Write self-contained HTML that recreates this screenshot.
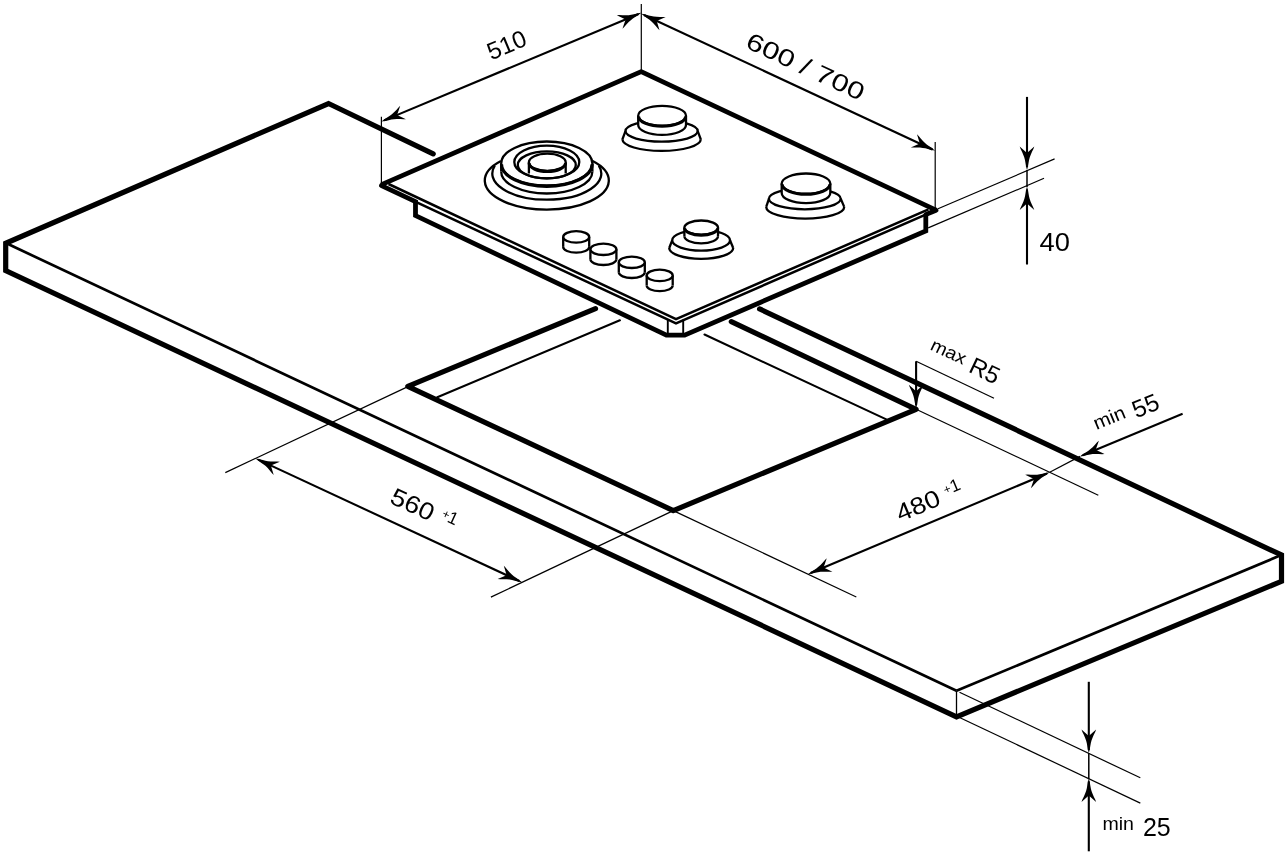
<!DOCTYPE html>
<html><head><meta charset="utf-8"><style>
html,body{margin:0;padding:0;background:#fff;}
svg{display:block;will-change:transform;}
text{font-family:"Liberation Sans",sans-serif;fill:#000;stroke:none;}
</style></head><body>
<svg width="1288" height="854" viewBox="0 0 1288 854" stroke="#000" fill="none">
<rect width="1288" height="854" fill="#fff" stroke="none"/>
<polyline points="433.2,153.9 328.5,103.5 5.7,243.3 5.7,270.6 956.5,716.8 1281.5,581.3 1281.5,555 759.6,308.9" stroke-width="5.2" stroke-linejoin="miter" stroke-linecap="round" fill="none"/>
<line x1="7.5" y1="243.8" x2="956.5" y2="690.8" stroke-width="2.7" stroke-linecap="butt"/>
<line x1="956.5" y1="690.8" x2="1280" y2="555.6" stroke-width="2.7" stroke-linecap="butt"/>
<line x1="956.5" y1="690.8" x2="956.5" y2="716.8" stroke-width="1.3" stroke-linecap="butt"/>
<polyline points="595.5,308.6 407.8,386.3 673.3,510.6 916.1,409.3 731.3,321.6" stroke-width="5.2" stroke-linejoin="round" stroke-linecap="round" fill="none"/>
<line x1="437.3" y1="397.2" x2="619.9" y2="320.3" stroke-width="2.1" stroke-linecap="round"/>
<line x1="704.5" y1="334.5" x2="886.3" y2="419.4" stroke-width="2.1" stroke-linecap="round"/>
<polyline points="381.5,184.6 641.2,71.6 936,210.2" stroke-width="4.8" stroke-linejoin="round" stroke-linecap="butt" fill="none"/>
<polyline points="388.5,184 676,319.1 928.5,209.4" stroke-width="2.5" stroke-linejoin="miter" stroke-linecap="butt" fill="none"/>
<polyline points="381.5,185.8 676,323.4 926.2,214.4" stroke-width="2.5" stroke-linejoin="miter" stroke-linecap="butt" fill="none"/>
<line x1="381.5" y1="185.6" x2="415.5" y2="201.6" stroke-width="4.8" stroke-linecap="round"/>
<line x1="936" y1="210.2" x2="926.2" y2="214.4" stroke-width="4.8" stroke-linecap="round"/>
<polyline points="415.5,200 415.5,215.6 666.4,335.1 684.6,335.1 925.8,231 925.8,213.8" stroke-width="4.8" stroke-linejoin="miter" stroke-linecap="butt" fill="none"/>
<line x1="667.8" y1="319.5" x2="667.8" y2="334" stroke-width="1.9" stroke-linecap="butt"/>
<line x1="683.2" y1="319.5" x2="683.2" y2="334" stroke-width="1.9" stroke-linecap="butt"/>
<path d="M622.4,139.3 A39.2,11.6 0 0 0 700.8,139.3" stroke-width="2.3" fill="none"/>
<line x1="622.4" y1="139.3" x2="625.5" y2="131.1" stroke-width="2.3" stroke-linecap="butt"/>
<line x1="700.8" y1="139.3" x2="697.7" y2="131.1" stroke-width="2.3" stroke-linecap="butt"/>
<ellipse cx="661.6" cy="131.1" rx="36.1" ry="10.5" stroke-width="2.3" fill="none"/>
<path d="M638.2,115.8 L638.2,125 A23.9,9.9 0 0 0 686,125 L686,115.8 Z" fill="#fff" stroke="none"/>
<path d="M638.2,125 A23.9,9.9 0 0 0 686,125" stroke-width="2.3" fill="none"/>
<line x1="638.2" y1="115.8" x2="638.2" y2="125" stroke-width="2.3" stroke-linecap="butt"/>
<line x1="686" y1="115.8" x2="686" y2="125" stroke-width="2.3" stroke-linecap="butt"/>
<ellipse cx="662.1" cy="115.8" rx="23.9" ry="9.9" stroke-width="2.3" fill="#fff"/>
<path d="M638.68,116.4 A23.42,9.9 0 0 0 685.52,116.4" stroke-width="3.0" fill="none"/>
<path d="M766.2,206.9 A39,11.7 0 0 0 844.2,206.9" stroke-width="2.3" fill="none"/>
<line x1="766.2" y1="206.9" x2="768.9" y2="198.8" stroke-width="2.3" stroke-linecap="butt"/>
<line x1="844.2" y1="206.9" x2="840.7" y2="198.8" stroke-width="2.3" stroke-linecap="butt"/>
<ellipse cx="804.8" cy="198.8" rx="35.9" ry="10.5" stroke-width="2.3" fill="none"/>
<path d="M781.7,183.6 L781.7,193 A24.3,10.1 0 0 0 830.3,193 L830.3,183.6 Z" fill="#fff" stroke="none"/>
<path d="M781.7,193 A24.3,10.1 0 0 0 830.3,193" stroke-width="2.3" fill="none"/>
<line x1="781.7" y1="183.6" x2="781.7" y2="193" stroke-width="2.3" stroke-linecap="butt"/>
<line x1="830.3" y1="183.6" x2="830.3" y2="193" stroke-width="2.3" stroke-linecap="butt"/>
<ellipse cx="806" cy="183.6" rx="24.3" ry="10.1" stroke-width="2.3" fill="#fff"/>
<path d="M782.19,184.2 A23.81,10.1 0 0 0 829.81,184.2" stroke-width="3.0" fill="none"/>
<path d="M669.2,248 A32,10.8 0 0 0 733.2,248" stroke-width="2.3" fill="none"/>
<line x1="669.2" y1="248" x2="672.2" y2="240.3" stroke-width="2.3" stroke-linecap="butt"/>
<line x1="733.2" y1="248" x2="730" y2="240.3" stroke-width="2.3" stroke-linecap="butt"/>
<ellipse cx="701.1" cy="240.3" rx="28.9" ry="10.3" stroke-width="2.3" fill="none"/>
<path d="M684.4,227.6 L684.4,236.2 A16.8,7.1 0 0 0 718,236.2 L718,227.6 Z" fill="#fff" stroke="none"/>
<path d="M684.4,236.2 A16.8,7.1 0 0 0 718,236.2" stroke-width="2.3" fill="none"/>
<line x1="684.4" y1="227.6" x2="684.4" y2="236.2" stroke-width="2.3" stroke-linecap="butt"/>
<line x1="718" y1="227.6" x2="718" y2="236.2" stroke-width="2.3" stroke-linecap="butt"/>
<ellipse cx="701.2" cy="227.6" rx="16.8" ry="7.1" stroke-width="2.3" fill="#fff"/>
<path d="M684.74,228.2 A16.46,7.1 0 0 0 717.66,228.2" stroke-width="3.0" fill="none"/>
<path d="M501,161 A62,29 0 1 0 592.6,161" stroke-width="2.3" fill="none"/>
<path d="M494.8,165.65 A54.5,26.2 0 1 0 598.8,165.65" stroke-width="2.3" fill="none"/>
<path d="M501.2,163.5 L501.2,171.5 A45.6,22 0 0 0 592.4,171.5 L592.4,163.5 Z" fill="#fff" stroke="none"/>
<path d="M501.2,171.5 A45.6,22 0 0 0 592.4,171.5" stroke-width="2.3" fill="none"/>
<line x1="501.2" y1="163.5" x2="501.2" y2="171.5" stroke-width="2.3" stroke-linecap="butt"/>
<line x1="592.4" y1="163.5" x2="592.4" y2="171.5" stroke-width="2.3" stroke-linecap="butt"/>
<ellipse cx="546.8" cy="163.5" rx="45.6" ry="22" stroke-width="2.3" fill="#fff"/>
<path d="M501.5,164.3 A45.3,22 0 0 0 592.1,164.3" stroke-width="3.2" fill="none"/>
<ellipse cx="546.8" cy="162" rx="32.5" ry="16.4" stroke-width="2.3" fill="none"/>
<ellipse cx="546.8" cy="164.9" rx="29" ry="13.5" stroke-width="2.3" fill="none"/>
<path d="M528.9,162.3 L528.9,173 L565.7,173 L565.7,162.3 Z" fill="#fff" stroke="none"/>
<line x1="528.9" y1="162.3" x2="528.9" y2="173.5" stroke-width="2.3" stroke-linecap="butt"/>
<line x1="565.7" y1="162.3" x2="565.7" y2="173.5" stroke-width="2.3" stroke-linecap="butt"/>
<ellipse cx="547.3" cy="162.3" rx="18.4" ry="8.6" stroke-width="2.3" fill="#fff"/>
<path d="M529.1,163 A18.2,8.6 0 0 0 565.5,163" stroke-width="3.0" fill="none"/>
<path d="M563.2,236.9 L563.2,246.9 A13,5.7 0 0 0 589.2,246.9 L589.2,236.9 Z" fill="#fff" stroke="none"/>
<path d="M563.2,246.9 A13,5.7 0 0 0 589.2,246.9" stroke-width="2.3" fill="none"/>
<line x1="563.2" y1="236.9" x2="563.2" y2="246.9" stroke-width="2.3" stroke-linecap="butt"/>
<line x1="589.2" y1="236.9" x2="589.2" y2="246.9" stroke-width="2.3" stroke-linecap="butt"/>
<ellipse cx="576.2" cy="236.9" rx="13" ry="5.7" stroke-width="2.3" fill="#fff"/>
<path d="M590.4,249.3 L590.4,259.3 A13,5.7 0 0 0 616.4,259.3 L616.4,249.3 Z" fill="#fff" stroke="none"/>
<path d="M590.4,259.3 A13,5.7 0 0 0 616.4,259.3" stroke-width="2.3" fill="none"/>
<line x1="590.4" y1="249.3" x2="590.4" y2="259.3" stroke-width="2.3" stroke-linecap="butt"/>
<line x1="616.4" y1="249.3" x2="616.4" y2="259.3" stroke-width="2.3" stroke-linecap="butt"/>
<ellipse cx="603.4" cy="249.3" rx="13" ry="5.7" stroke-width="2.3" fill="#fff"/>
<path d="M618.8,262.3 L618.8,272.3 A13,5.7 0 0 0 644.8,272.3 L644.8,262.3 Z" fill="#fff" stroke="none"/>
<path d="M618.8,272.3 A13,5.7 0 0 0 644.8,272.3" stroke-width="2.3" fill="none"/>
<line x1="618.8" y1="262.3" x2="618.8" y2="272.3" stroke-width="2.3" stroke-linecap="butt"/>
<line x1="644.8" y1="262.3" x2="644.8" y2="272.3" stroke-width="2.3" stroke-linecap="butt"/>
<ellipse cx="631.8" cy="262.3" rx="13" ry="5.7" stroke-width="2.3" fill="#fff"/>
<path d="M646.7,275.4 L646.7,285.4 A13,5.7 0 0 0 672.7,285.4 L672.7,275.4 Z" fill="#fff" stroke="none"/>
<path d="M646.7,285.4 A13,5.7 0 0 0 672.7,285.4" stroke-width="2.3" fill="none"/>
<line x1="646.7" y1="275.4" x2="646.7" y2="285.4" stroke-width="2.3" stroke-linecap="butt"/>
<line x1="672.7" y1="275.4" x2="672.7" y2="285.4" stroke-width="2.3" stroke-linecap="butt"/>
<ellipse cx="659.7" cy="275.4" rx="13" ry="5.7" stroke-width="2.3" fill="#fff"/>
<line x1="381.4" y1="116.8" x2="381.4" y2="184" stroke-width="1.2" stroke-linecap="butt"/>
<line x1="641.3" y1="4.1" x2="641.3" y2="71" stroke-width="1.2" stroke-linecap="butt"/>
<line x1="935.2" y1="142" x2="935.2" y2="208.7" stroke-width="1.2" stroke-linecap="butt"/>
<line x1="938" y1="208.8" x2="1054.6" y2="158.9" stroke-width="1.2" stroke-linecap="butt"/>
<line x1="928.2" y1="227.9" x2="1044" y2="178.3" stroke-width="1.2" stroke-linecap="butt"/>
<line x1="407.4" y1="386.9" x2="225.3" y2="472.6" stroke-width="1.2" stroke-linecap="butt"/>
<line x1="673.3" y1="510.6" x2="490.9" y2="597.1" stroke-width="1.2" stroke-linecap="butt"/>
<line x1="673.3" y1="510.6" x2="856.3" y2="597" stroke-width="1.2" stroke-linecap="butt"/>
<line x1="916.1" y1="409.3" x2="1098.3" y2="495.2" stroke-width="1.2" stroke-linecap="butt"/>
<line x1="916.1" y1="361.3" x2="994" y2="398.2" stroke-width="1.2" stroke-linecap="butt"/>
<line x1="959.5" y1="692.2" x2="1140.3" y2="777.8" stroke-width="1.2" stroke-linecap="butt"/>
<line x1="959.5" y1="717.5" x2="1140.3" y2="803.1" stroke-width="1.2" stroke-linecap="butt"/>
<line x1="384.17" y1="120.4" x2="638.53" y2="13.99" stroke-width="2.1" stroke-linecap="butt"/>
<path d="M381.4,121.56 L383.03,120.28 L384.7,119.09 L387.54,117.31 L389.83,115.81 L391.89,114.24 L394.01,112.32 L396.35,109.88 L398.49,107.47 L400.26,105.75 L397.08,115 L405.9,119.22 L403.43,119.28 L400.21,119.11 L396.83,119.06 L393.97,119.22 L391.42,119.59 L388.73,120.17 L385.48,120.94 L383.46,121.29 Z" fill="#000" stroke="none"/>
<path d="M641.3,12.83 L639.67,14.11 L638,15.3 L635.16,17.08 L632.87,18.58 L630.81,20.15 L628.69,22.07 L626.35,24.51 L624.21,26.92 L622.44,28.64 L625.62,19.39 L616.8,15.17 L619.27,15.11 L622.49,15.28 L625.87,15.33 L628.73,15.17 L631.28,14.8 L633.97,14.22 L637.22,13.45 L639.24,13.1 Z" fill="#000" stroke="none"/>
<line x1="644.02" y1="15.01" x2="932.48" y2="149.45" stroke-width="2.1" stroke-linecap="butt"/>
<path d="M641.3,13.75 L643.35,14.09 L645.35,14.53 L648.57,15.43 L651.23,16.11 L653.77,16.58 L656.62,16.86 L660,16.95 L663.22,16.9 L665.68,17.06 L656.71,20.93 L659.52,30.29 L657.81,28.5 L655.77,26.01 L653.54,23.48 L651.49,21.47 L649.5,19.83 L647.26,18.24 L644.5,16.34 L642.88,15.09 Z" fill="#000" stroke="none"/>
<path d="M935.2,150.72 L933.15,150.37 L931.15,149.94 L927.93,149.04 L925.27,148.35 L922.73,147.89 L919.88,147.61 L916.5,147.52 L913.28,147.56 L910.82,147.41 L919.79,143.54 L916.98,134.18 L918.69,135.96 L920.73,138.46 L922.96,140.99 L925.01,142.99 L927,144.64 L929.24,146.23 L932,148.12 L933.62,149.38 Z" fill="#000" stroke="none"/>
<line x1="258.2" y1="459.66" x2="519.31" y2="581.07" stroke-width="2.1" stroke-linecap="butt"/>
<path d="M255.48,458.4 L257.52,458.74 L259.53,459.18 L262.75,460.07 L265.41,460.75 L267.95,461.22 L270.8,461.5 L274.18,461.58 L277.4,461.53 L279.87,461.69 L270.89,465.56 L273.71,474.92 L272,473.14 L269.96,470.65 L267.72,468.12 L265.68,466.12 L263.68,464.47 L261.44,462.88 L258.68,460.99 L257.06,459.74 Z" fill="#000" stroke="none"/>
<path d="M522.03,582.34 L519.98,581.99 L517.98,581.56 L514.75,580.67 L512.1,579.98 L509.55,579.52 L506.71,579.24 L503.33,579.16 L500.11,579.2 L497.64,579.05 L506.61,575.17 L503.8,565.81 L505.5,567.6 L507.54,570.09 L509.78,572.62 L511.83,574.62 L513.82,576.26 L516.06,577.85 L518.82,579.75 L520.45,581 Z" fill="#000" stroke="none"/>
<line x1="810.7" y1="573" x2="1046.94" y2="473.45" stroke-width="2.1" stroke-linecap="butt"/>
<path d="M807.93,574.17 L809.56,572.88 L811.23,571.69 L814.06,569.9 L816.35,568.39 L818.41,566.82 L820.52,564.9 L822.86,562.45 L824.99,560.04 L826.76,558.31 L823.6,567.56 L832.43,571.77 L829.96,571.83 L826.74,571.67 L823.36,571.63 L820.5,571.8 L817.95,572.17 L815.26,572.76 L812.01,573.53 L809.99,573.9 Z" fill="#000" stroke="none"/>
<path d="M1049.7,472.29 L1048.07,473.57 L1046.4,474.76 L1043.58,476.55 L1041.28,478.06 L1039.23,479.63 L1037.11,481.55 L1034.78,484 L1032.65,486.42 L1030.88,488.14 L1034.04,478.89 L1025.21,474.69 L1027.68,474.62 L1030.9,474.79 L1034.28,474.83 L1037.13,474.65 L1039.69,474.28 L1042.37,473.69 L1045.63,472.92 L1047.64,472.56 Z" fill="#000" stroke="none"/>
<line x1="1049.7" y1="472.29" x2="1080" y2="456.4" stroke-width="1.2" stroke-linecap="butt"/>
<line x1="1182.6" y1="413.7" x2="1082.77" y2="455.25" stroke-width="2.1" stroke-linecap="butt"/>
<path d="M1080,456.4 L1081.64,455.12 L1083.31,453.94 L1086.14,452.16 L1088.44,450.67 L1090.5,449.1 L1092.63,447.19 L1094.97,444.75 L1097.11,442.35 L1098.89,440.63 L1095.7,449.87 L1104.5,454.11 L1102.03,454.16 L1098.82,453.98 L1095.44,453.93 L1092.58,454.09 L1090.02,454.45 L1087.34,455.03 L1084.08,455.79 L1082.06,456.14 Z" fill="#000" stroke="none"/>
<line x1="1027" y1="96.9" x2="1027" y2="167.1" stroke-width="2.1" stroke-linecap="butt"/>
<path d="M1027,170.1 L1026.45,168.1 L1026,166.1 L1025.45,162.8 L1024.95,160.1 L1024.3,157.6 L1023.35,154.9 L1022,151.8 L1020.6,148.9 L1019.7,146.6 L1027,153.1 L1034.3,146.6 L1033.4,148.9 L1032,151.8 L1030.65,154.9 L1029.7,157.6 L1029.05,160.1 L1028.55,162.8 L1028,166.1 L1027.55,168.1 Z" fill="#000" stroke="none"/>
<line x1="1027" y1="264.5" x2="1027" y2="189.5" stroke-width="2.1" stroke-linecap="butt"/>
<path d="M1027,186.5 L1027.55,188.5 L1028,190.5 L1028.55,193.8 L1029.05,196.5 L1029.7,199 L1030.65,201.7 L1032,204.8 L1033.4,207.7 L1034.3,210 L1027,203.5 L1019.7,210 L1020.6,207.7 L1022,204.8 L1023.35,201.7 L1024.3,199 L1024.95,196.5 L1025.45,193.8 L1026,190.5 L1026.45,188.5 Z" fill="#000" stroke="none"/>
<line x1="1027" y1="170" x2="1027" y2="187" stroke-width="1.5" stroke-linecap="butt"/>
<line x1="1088.8" y1="681.8" x2="1088.8" y2="750.1" stroke-width="2.1" stroke-linecap="butt"/>
<path d="M1088.8,753.1 L1088.25,751.1 L1087.8,749.1 L1087.25,745.8 L1086.75,743.1 L1086.1,740.6 L1085.15,737.9 L1083.8,734.8 L1082.4,731.9 L1081.5,729.6 L1088.8,736.1 L1096.1,729.6 L1095.2,731.9 L1093.8,734.8 L1092.45,737.9 L1091.5,740.6 L1090.85,743.1 L1090.35,745.8 L1089.8,749.1 L1089.35,751.1 Z" fill="#000" stroke="none"/>
<line x1="1088.8" y1="851.3" x2="1088.8" y2="781.4" stroke-width="2.1" stroke-linecap="butt"/>
<path d="M1088.8,778.4 L1089.35,780.4 L1089.8,782.4 L1090.35,785.7 L1090.85,788.4 L1091.5,790.9 L1092.45,793.6 L1093.8,796.7 L1095.2,799.6 L1096.1,801.9 L1088.8,795.4 L1081.5,801.9 L1082.4,799.6 L1083.8,796.7 L1085.15,793.6 L1086.1,790.9 L1086.75,788.4 L1087.25,785.7 L1087.8,782.4 L1088.25,780.4 Z" fill="#000" stroke="none"/>
<line x1="1088.8" y1="753" x2="1088.8" y2="779" stroke-width="1.5" stroke-linecap="butt"/>
<line x1="916.1" y1="361.3" x2="916.1" y2="405.2" stroke-width="2.1" stroke-linecap="butt"/>
<path d="M916.1,408.2 L915.55,406.2 L915.1,404.2 L914.55,400.9 L914.05,398.2 L913.4,395.7 L912.45,393 L911.1,389.9 L909.7,387 L908.8,384.7 L916.1,391.2 L923.4,384.7 L922.5,387 L921.1,389.9 L919.75,393 L918.8,395.7 L918.15,398.2 L917.65,400.9 L917.1,404.2 L916.65,406.2 Z" fill="#000" stroke="none"/>
<text transform="translate(506.5,44.6) rotate(-22.7)" x="0" y="8.66" font-size="24.2" text-anchor="middle" textLength="40.5" lengthAdjust="spacingAndGlyphs">510</text>
<text transform="translate(805.7,66.2) rotate(25)" x="0" y="8.59" font-size="24" text-anchor="middle" textLength="127.5" lengthAdjust="spacingAndGlyphs">600 / 700</text>
<text transform="translate(412.7,504.1) rotate(24.7)" x="0" y="8.66" font-size="24.2" text-anchor="middle" textLength="45.5" lengthAdjust="spacingAndGlyphs">560</text>
<text transform="translate(453.3,517.8) rotate(24.7)" x="0" y="6.26" font-size="17.5" text-anchor="middle">1</text>
<text transform="translate(446.3,514) rotate(24.7)" x="0" y="4.3" font-size="12" text-anchor="middle">+</text>
<text transform="translate(917.8,505.3) rotate(-22.8)" x="0" y="8.66" font-size="24.2" text-anchor="middle" textLength="45.5" lengthAdjust="spacingAndGlyphs">480</text>
<text transform="translate(954.7,485.2) rotate(-22.8)" x="0" y="6.26" font-size="17.5" text-anchor="middle">1</text>
<text transform="translate(947,488.9) rotate(-22.8)" x="0" y="4.3" font-size="12" text-anchor="middle">+</text>
<text transform="translate(948.8,351.2) rotate(25.3)" x="0" y="6.44" font-size="18" text-anchor="middle" textLength="37" lengthAdjust="spacingAndGlyphs">max</text>
<text transform="translate(985,370.3) rotate(25.3)" x="0" y="8.59" font-size="24" text-anchor="middle">R5</text>
<text transform="translate(1109.2,417.4) rotate(-22.6)" x="0" y="6.8" font-size="19" text-anchor="middle" textLength="33" lengthAdjust="spacingAndGlyphs">min</text>
<text transform="translate(1145.3,405.4) rotate(-22.6)" x="0" y="8.66" font-size="24.2" text-anchor="middle">55</text>
<text x="1039.6" y="251" font-size="25" textLength="30.4" lengthAdjust="spacingAndGlyphs">40</text>
<text x="1102.5" y="830" font-size="18" textLength="31.5" lengthAdjust="spacingAndGlyphs">min</text>
<text x="1142.9" y="836.1" font-size="25">25</text>
</svg>
</body></html>
